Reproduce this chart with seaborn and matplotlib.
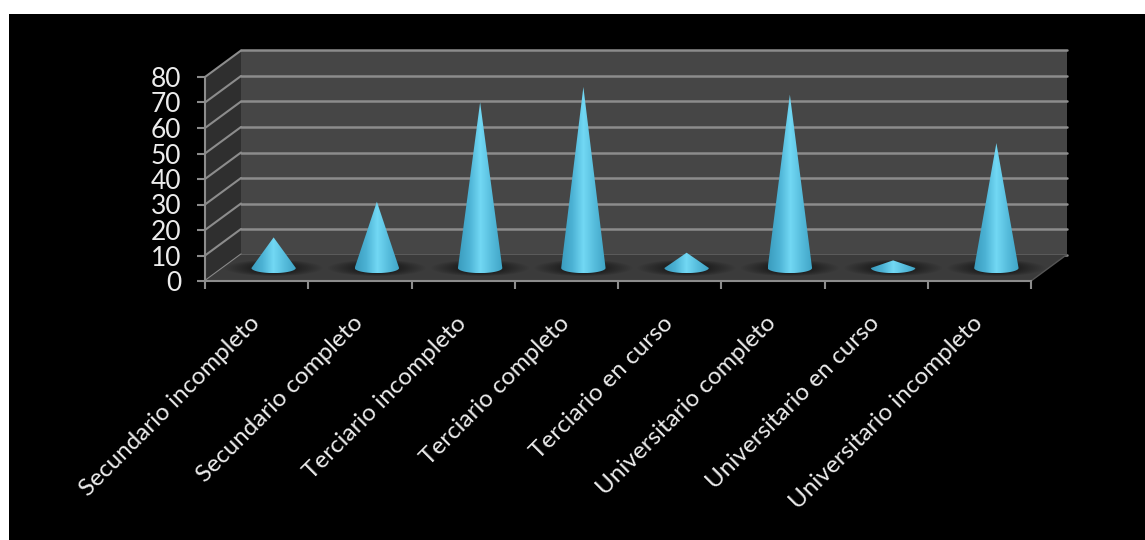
import numpy as np
import pandas as pd
import seaborn as sns
import matplotlib.pyplot as plt
from matplotlib.colors import LinearSegmentedColormap
from matplotlib.patches import Ellipse, Polygon, Rectangle
from matplotlib.transforms import Affine2D

categorias = ["Secundario incompleto", "Secundario completo", "Terciario incompleto",
              "Terciario completo", "Terciario en curso", "Universitario completo",
              "Universitario en curso", "Universitario incompleto"]
valores = [12, 26, 65, 71, 6, 68, 3, 49]
ticks_y = [0, 10, 20, 30, 40, 50, 60, 70, 80]

W, H = 1145, 540
GRID = "#8c8c8c"
TEXT = "#ececec"

sns.set_theme(style="dark")
plt.rcParams["font.family"] = ["Lato", "DejaVu Sans"]

fig = plt.figure(figsize=(W / 100, H / 100), dpi=100, facecolor="white")
# fondo negro, deja el borde blanco arriba y a la izquierda
fig.patches.append(Rectangle((9 / W, 0), 1, 1 - 14 / H, transform=fig.transFigure,
                             facecolor="black", edgecolor="none", zorder=-5))

ax = fig.add_axes([205 / W, 1 - 281 / H, 826 / W, 204 / H])
ax.patch.set_visible(False)

df = pd.DataFrame({"nivel": categorias, "valor": valores})
sns.barplot(data=df, x="nivel", y="valor", width=0.43, color="#4fb9d9", ax=ax)
ax.set_xlim(-0.5, len(categorias) - 0.5)
ax.set_ylim(0, 80)
ax.set_xlabel("")
ax.set_ylabel("")

# desplazamientos de la caja 3D, en pixeles
tr_back = ax.transData + Affine2D().translate(36, 26.5)
tr_mid = ax.transData + Affine2D().translate(17, 13)

x0, x1 = ax.get_xlim()
inv = ax.transData.inverted()
prof = inv.transform(ax.transData.transform((0, 0)) + (36, 26.5))

# pared del fondo, lateral y piso
ax.add_patch(Polygon([(x0, 0), (x1, 0), (x1, 80), (x0, 80)], transform=tr_back,
                     facecolor="#464646", edgecolor="none", zorder=0, clip_on=False))
ax.add_patch(Polygon([(x0, 0), (x0, 80), (x0 + prof[0], 80 + prof[1]), (x0 + prof[0], prof[1])],
                     facecolor="#2f2f2f", edgecolor="none", zorder=0, clip_on=False))
ax.add_patch(Polygon([(x0, 0), (x1, 0), (x1 + prof[0], prof[1]), (x0 + prof[0], prof[1])],
                     facecolor="#3b3b3b", edgecolor="none", zorder=1, clip_on=False))

for t in ticks_y:
    ax.plot([x0, x1], [t, t], transform=tr_back, color=GRID, lw=1.8, zorder=0.5, clip_on=False)
    ax.plot([x0, x0 + prof[0]], [t, t + prof[1]], color=GRID, lw=1.5, zorder=0.5, clip_on=False)
ax.plot([x1, x1 + prof[0]], [0, prof[1]], color="#555555", lw=1, zorder=1.5, clip_on=False)

cono = LinearSegmentedColormap.from_list("cono", ["#3a9cbe", "#4cb2d4", "#72d8f4", "#56bcdc", "#3fa4c6"])
gradiente = np.linspace(0, 1, 256).reshape(1, -1)
ALTO_BASE = 2.0  # semieje vertical de la base, en unidades de y

for bar in ax.patches[:len(valores)]:
    bar.set_visible(False)
    xc = bar.get_x() + bar.get_width() / 2
    r = bar.get_width() / 2
    v = bar.get_height()

    # sombra sobre el piso
    for k in np.linspace(2.2, 1.0, 14):
        ax.add_patch(Ellipse((xc, 0), 2 * r * k, 2 * ALTO_BASE * (0.7 + 0.4 * k), transform=tr_mid,
                             facecolor="black", edgecolor="none", alpha=0.028, zorder=2, clip_on=False))

    ang = np.linspace(np.pi, 2 * np.pi, 40)
    contorno = np.column_stack([xc + r * np.cos(ang), ALTO_BASE * np.sin(ang)])
    contorno = np.vstack([contorno, [xc, v]])
    silueta = Polygon(contorno, closed=True, transform=tr_mid, facecolor="none", edgecolor="none")
    ax.add_patch(silueta)
    im = ax.imshow(gradiente, cmap=cono, aspect="auto", extent=(xc - r, xc + r, -ALTO_BASE, v),
                   transform=tr_mid, zorder=3)
    im.set_clip_path(silueta)

ax.set_xlim(x0, x1)
ax.set_ylim(0, 80)
ax.set_aspect("auto")

sns.despine(ax=ax, top=True, right=True)
for s in ["left", "bottom"]:
    ax.spines[s].set_color(GRID)
    ax.spines[s].set_linewidth(1.5)
    ax.spines[s].set_zorder(4)

ax.set_yticks(ticks_y)
ax.tick_params(axis="y", left=True, length=6, width=1.5, color=GRID, labelcolor=TEXT,
               labelsize=19, pad=11)
ax.set_xticks(np.arange(x0, x1 + 0.5), minor=True)
ax.tick_params(axis="x", which="minor", bottom=True, length=6, width=1.5, color=GRID)
ax.tick_params(axis="x", which="major", bottom=False, length=0, labelcolor=TEXT,
               labelsize=17.5, pad=28)
for lab in ax.get_xticklabels():
    lab.set_rotation(45)
    lab.set_ha("right")
    lab.set_va("center")
    lab.set_rotation_mode("anchor")

fig.savefig("out.png", dpi=100, facecolor=fig.get_facecolor())
